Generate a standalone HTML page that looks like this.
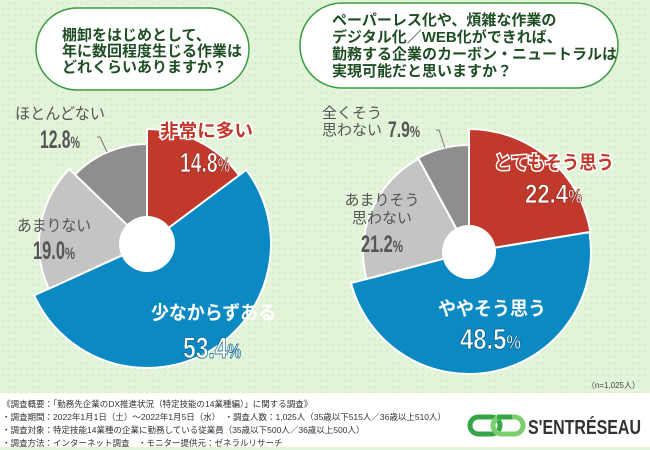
<!DOCTYPE html>
<html><head><meta charset="utf-8">
<style>
body{margin:0;width:650px;height:450px;overflow:hidden;font-family:"Liberation Sans","Noto Sans CJK JP",sans-serif;}
#root{position:relative;width:650px;height:450px;background:#e3f4da;}
</style></head>
<body>
<div id="root">
<svg width="650" height="450" viewBox="0 0 650 450" xmlns="http://www.w3.org/2000/svg" style="position:absolute;left:0;top:0">
<defs>
<pattern id="dots" width="6" height="6" patternUnits="userSpaceOnUse"><circle cx="3" cy="3" r="0.6" fill="#b8dcae"/></pattern>
</defs>
<rect width="650" height="450" fill="#e3f4da"/>
<rect width="650" height="393" fill="url(#dots)"/>
<g>
<rect x="36" y="8" width="213" height="82" rx="41" fill="#fff" stroke="#3a9c3f" stroke-width="1.5"/>
<g font-size="15" font-weight="bold" fill="#1f4d24">
<text x="62" y="40">棚卸をはじめとして、</text>
<text x="62" y="56">年に数回程度生じる作業は</text>
<text x="62" y="72">どれくらいありますか？</text>
</g></g>
<g>
<rect x="300" y="3" width="318" height="85" rx="42" fill="#fff" stroke="#3a9c3f" stroke-width="1.5"/>
<g font-size="15" font-weight="bold" fill="#1f4d24">
<text x="332" y="25">ペーパーレス化や、煩雑な作業の</text>
<text x="332" y="42">デジタル化／WEB化ができれば、</text>
<text x="332" y="59">勤務する企業のカーボン・ニュートラルは</text>
<text x="332" y="76">実現可能だと思いますか？</text>
</g></g>
<g id="pies"></g>
<g font-weight="bold">
<text x="160" y="137" font-size="18" fill="#c0392b" stroke="#fff" stroke-width="3" paint-order="stroke" textLength="93" lengthAdjust="spacingAndGlyphs">非常に多い</text>
<text x="180" y="172" font-size="28" fill="#fff" stroke="#8e2a1f" stroke-width="0.8" textLength="50" lengthAdjust="spacingAndGlyphs">14.8<tspan font-size="20">%</tspan></text>
<text x="151" y="319" font-size="19" fill="#fff" textLength="125" lengthAdjust="spacingAndGlyphs">少なからずある</text>
<text x="183" y="358" font-size="30" fill="#fff" stroke="#06628c" stroke-width="0.8" textLength="58" lengthAdjust="spacingAndGlyphs">53.4<tspan font-size="20">%</tspan></text>
<text x="17" y="231" font-size="16" fill="#555" font-weight="normal" textLength="74" lengthAdjust="spacingAndGlyphs">あまりない</text>
<text x="33" y="259" font-size="25" fill="#555" textLength="42" lengthAdjust="spacingAndGlyphs">19.0<tspan font-size="17">%</tspan></text>
<text x="15" y="119" font-size="16" fill="#555" font-weight="normal" textLength="90" lengthAdjust="spacingAndGlyphs">ほとんどない</text>
<text x="40" y="148" font-size="25" fill="#555" textLength="40" lengthAdjust="spacingAndGlyphs">12.8<tspan font-size="17">%</tspan></text>
<path d="M97 137 L100 137 L107 152" fill="none" stroke="#777" stroke-width="1"/>
<text x="322" y="118" font-size="15" fill="#555" font-weight="normal">全くそう</text>
<text x="322" y="135" font-size="15" fill="#555" font-weight="normal">思わない</text>
<text x="388" y="137" font-size="22" fill="#555" textLength="32" lengthAdjust="spacingAndGlyphs">7.9<tspan font-size="16">%</tspan></text>
<path d="M436 130 L439 130 L445 148" fill="none" stroke="#777" stroke-width="1"/>
<text x="494" y="169" font-size="19" fill="#c0392b" stroke="#fff" stroke-width="3" paint-order="stroke" textLength="120" lengthAdjust="spacingAndGlyphs">とてもそう思う</text>
<text x="525" y="203" font-size="27" fill="#fff" stroke="#8e2a1f" stroke-width="0.8" textLength="57" lengthAdjust="spacingAndGlyphs">22.4<tspan font-size="19">%</tspan></text>
<text x="382" y="205" font-size="15" fill="#555" font-weight="normal" text-anchor="middle">あまりそう</text>
<text x="382" y="223" font-size="15" fill="#555" font-weight="normal" text-anchor="middle">思わない</text>
<text x="361" y="252" font-size="24" fill="#555" textLength="42" lengthAdjust="spacingAndGlyphs">21.2<tspan font-size="17">%</tspan></text>
<text x="438" y="315" font-size="19" fill="#fff" textLength="108" lengthAdjust="spacingAndGlyphs">ややそう思う</text>
<text x="460" y="349" font-size="29" fill="#fff" stroke="#06628c" stroke-width="0.8" textLength="61" lengthAdjust="spacingAndGlyphs">48.5<tspan font-size="20">%</tspan></text>
</g>
<text x="640" y="388" font-size="8" fill="#444" text-anchor="end">（n=1,025人）</text>
<rect x="0" y="393" width="650" height="54" fill="#fff"/>
<g font-size="8.5" fill="#333">
<text x="2" y="407">《調査概要：「勤務先企業のDX推進状況（特定技能の14業種編）」に関する調査》</text>
<text x="2" y="420">・調査期間：2022年1月1日（土）～2022年1月5日（水）　・調査人数：1,025人（35歳以下515人／36歳以上510人）</text>
<text x="2" y="433">・調査対象：特定技能14業種の企業に勤務している従業員（35歳以下500人／36歳以上500人）</text>
<text x="2" y="446">・調査方法：インターネット調査　・モニター提供元：ゼネラルリサーチ</text>
</g>
<g>
<rect x="470" y="417" width="30" height="17" rx="8.5" fill="none" stroke="#35a545" stroke-width="5"/>
<rect x="493" y="417" width="30" height="17" rx="8.5" fill="none" stroke="#7ccf6e" stroke-width="5"/>
<path d="M497 417 L512 417" stroke="#35a545" stroke-width="5"/>
<text x="528" y="434" font-size="20" font-weight="bold" fill="#333" textLength="113" lengthAdjust="spacingAndGlyphs">S'ENTRÉSEAU</text>
</g>
<rect x="0" y="447" width="650" height="3" fill="#e3f4da"/>
</svg>
</div>
<script>
const leftCategories = ['非常に多い','少なからずある','あまりない','ほとんどない'];
const leftValues = [14.8, 53.4, 19.0, 12.8];
const rightCategories = ['とてもそう思う','ややそう思う','あまりそう思わない','全くそう思わない'];
const rightValues = [22.4, 48.5, 21.2, 7.9];
const colors = ['#c0392b','#0a89c2','#c4c4c4','#8e8e8e'];
const NS = 'http://www.w3.org/2000/svg';
const g = document.getElementById('pies');
function drawPie(values, cats, cx, cy, radii, hole, prefix){
  const total = values.reduce((a,b)=>a+b,0);
  let a0 = 0;
  values.forEach((v,i)=>{
    const a1 = a0 + v/total*Math.PI*2;
    const r = radii[i];
    const x0 = cx + r*Math.sin(a0), y0 = cy - r*Math.cos(a0);
    const x1 = cx + r*Math.sin(a1), y1 = cy - r*Math.cos(a1);
    const large = (a1-a0) > Math.PI ? 1 : 0;
    const p = document.createElementNS(NS,'path');
    p.setAttribute('d', `M${cx} ${cy} L${x0} ${y0} A${r} ${r} 0 ${large} 1 ${x1} ${y1} Z`);
    p.setAttribute('fill', colors[i]);
    p.setAttribute('stroke', '#fff');
    p.setAttribute('stroke-width', '2');
    
    
    g.appendChild(p);
    a0 = a1;
  });
  const c = document.createElementNS(NS,'circle');
  c.setAttribute('cx', cx); c.setAttribute('cy', cy); c.setAttribute('r', hole);
  c.setAttribute('fill', '#fff');
  
  
  g.appendChild(c);
}
drawPie(leftValues, leftCategories, 147, 244, [115,124,108,100], 28, 'left-pie');
drawPie(rightValues, rightCategories, 469, 252, [123,122,106,107], 27, 'right-pie');
</script>
</body></html>
